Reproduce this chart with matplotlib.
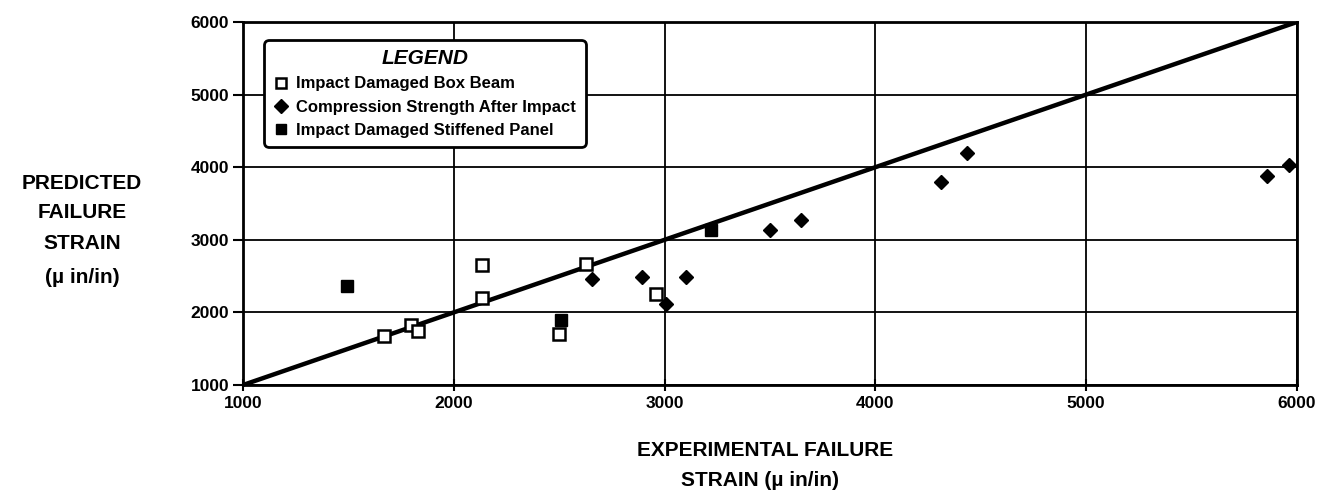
import matplotlib
matplotlib.use("Agg")
import matplotlib.pyplot as plt

plt.rcParams['font.family'] = ['Liberation Sans', 'DejaVu Sans']

# ---- data ----
box_x = [1670, 1795, 1830, 2135, 2135, 2500, 2625, 2960]
box_y = [1680, 1830, 1740, 2650, 2200, 1700, 2670, 2260]

csai_x = [2655, 2895, 3005, 3100, 3500, 3645, 4310, 4435, 5860, 5960]
csai_y = [2460, 2490, 2115, 2490, 3130, 3270, 3790, 4190, 3880, 4030]

panel_x = [1495, 2510, 3220]
panel_y = [2370, 1890, 3130]

ref_x = [1000, 6000]
ref_y = [1000, 6000]

ticks = [1000, 2000, 3000, 4000, 5000, 6000]
tick_labels = ['1000', '2000', '3000', '4000', '5000', '6000']

legend_labels = ['Impact Damaged Box Beam',
                 'Compression Strength After Impact',
                 'Impact Damaged Stiffened Panel']

# ---- figure ----
W, H = 1317, 498
fig = plt.figure(figsize=(W / 100, H / 100), dpi=100)
ax = fig.add_axes([243 / W, 1 - 385 / H, (1297 - 243) / W, (385 - 22) / H])

ax.set_xlim(1000, 6000)
ax.set_ylim(1000, 6000)
ax.set_xticks(ticks)
ax.set_yticks(ticks)
ax.set_xticklabels(tick_labels)
ax.set_yticklabels(tick_labels)

ax.grid(True, color='black', linewidth=1.3)
ax.set_axisbelow(True)
for s in ax.spines.values():
    s.set_linewidth(2.0)
    s.set_color('black')

ax.tick_params(axis='both', colors='black', width=1.5, labelsize=12.5)
ax.tick_params(axis='y', direction='out', length=7, pad=3)
ax.tick_params(axis='x', direction='inout', length=8, pad=4)
for lab in ax.get_xticklabels() + ax.get_yticklabels():
    lab.set_fontweight('bold')

# reference line y = x
ax.plot(ref_x, ref_y, color='black', linewidth=3.2, zorder=3, solid_capstyle='butt')

# data series
h1, = ax.plot(box_x, box_y, linestyle='none', marker='s', markersize=8,
              markerfacecolor='white', markeredgecolor='black',
              markeredgewidth=1.8, zorder=5, label=legend_labels[0])
h2, = ax.plot(csai_x, csai_y, linestyle='none', marker='D', markersize=7.5,
              markerfacecolor='black', markeredgecolor='black',
              zorder=5, label=legend_labels[1])
h3, = ax.plot(panel_x, panel_y, linestyle='none', marker='s', markersize=8,
              markerfacecolor='black', markeredgecolor='black',
              zorder=4, label=legend_labels[2])

leg = ax.legend(handles=[h1, h2, h3], loc='upper left',
                bbox_to_anchor=(264 / W, 1 - 40 / H),
                bbox_transform=fig.transFigure, borderaxespad=0,
                frameon=True, fancybox=True, framealpha=1,
                edgecolor='black', title='LEGEND',
                prop={'weight': 'bold', 'size': 12},
                handletextpad=0.5, handlelength=0.9,
                borderpad=0.55, labelspacing=0.5, markerscale=0.9)
leg.get_frame().set_linewidth(2.0)
leg.get_frame().set_boxstyle('round,pad=0,rounding_size=0.3')
title = leg.get_title()
title.set_fontweight('bold')
title.set_fontstyle('italic')
title.set_fontsize(15)
leg.set_zorder(10)

# axis titles
fig.text(765 / W, 1 - 450 / H, 'EXPERIMENTAL FAILURE', ha='center', va='center',
         fontsize=15, fontweight='bold')
fig.text(760 / W, 1 - 480 / H, 'STRAIN (µ in/in)', ha='center', va='center',
         fontsize=15, fontweight='bold')

for txt, yy in [('PREDICTED', 183), ('FAILURE', 213), ('STRAIN', 243), ('(µ in/in)', 277)]:
    fig.text(82 / W, 1 - yy / H, txt, ha='center', va='center',
             fontsize=15, fontweight='bold')

fig.savefig('out.png', dpi=100)
